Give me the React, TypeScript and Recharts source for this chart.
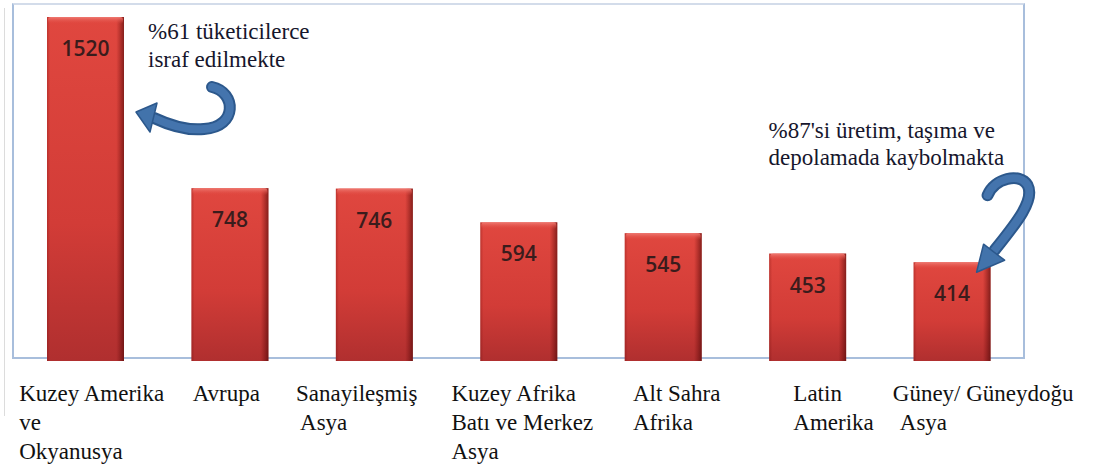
import React from "react";
import { BarChart, Bar, XAxis, YAxis, LabelList } from "recharts";

const regionLines: string[][] = [
  ["Kuzey Amerika", "ve", "Okyanusya"],
  ["Avrupa"],
  ["Sanayileşmiş", "Asya"],
  ["Kuzey Afrika", "Batı ve Merkez", "Asya"],
  ["Alt Sahra", "Afrika"],
  ["Latin", "Amerika"],
  ["Güney/ Güneydoğu", "Asya"],
];
const foodLoss = [1520, 748, 746, 594, 545, 453, 414];

const consumerNote = ["%61 tüketicilerce", "israf edilmekte"];
const productionNote = ["%87'si üretim, taşıma ve", "depolamada kaybolmakta"];

// label placement relative to category centre (left aligned text)
const labelShift: number[][] = [
  [-66, -66, -66],
  [-37],
  [-78, -74],
  [-67, -67, -67],
  [-30, -30],
  [-14, -14],
  [-59, -52],
];

const rows = regionLines.map((lines, i) => ({ region: lines.join(" "), value: foodLoss[i], idx: i }));

const serifFont = { fontFamily: "Liberation Serif, Times New Roman, serif" };
const noteColor = "#16162c";

const Arrow = ({ d, head }: { d: string; head: string }) => (
  <g>
    <path d={d} fill="none" stroke="#2c588c" strokeWidth={12} strokeLinecap="round" />
    <path d={d} fill="none" stroke="#4474ad" strokeWidth={8} strokeLinecap="round" />
    <polygon points={head} fill="#4273ab" stroke="#2c588c" strokeWidth={1.5} strokeLinejoin="round" />
  </g>
);

const pts = (list: number[][]) => list.map((p) => p.join(",")).join(" ");

const BarShape = (props: any) => {
  const { x, y, width, height, index } = props;
  const rx = x + width;
  const h = height + 7;
  return (
    <g>
      <rect x={x} y={y} width={width} height={h} fill="url(#barBody)" />
      <rect x={x} y={y} width={width} height={h} fill="url(#barSide)" />
      <rect x={x + 1} y={y} width={width - 2} height={7} rx={3} fill="url(#barTop)" />
      {index === 0 && (
        <g>
          {consumerNote.map((t, i) => (
            <text key={t} x={rx + 24} y={y + 22 + i * 28} style={serifFont} fontSize={23} fill={noteColor}>
              {t}
            </text>
          ))}
          <Arrow
            d={`M ${rx + 88} ${y + 70} C ${rx + 112} ${y + 75} ${rx + 114} ${y + 110} ${rx + 80} ${y + 112} C ${rx + 62} ${y + 114} ${rx + 45} ${y + 108} ${rx + 30} ${y + 101}`}
            head={pts([
              [rx + 12, y + 95],
              [rx + 33, y + 86],
              [rx + 26, y + 115],
            ])}
          />
        </g>
      )}
      {index === 6 && (
        <g>
          {productionNote.map((t, i) => (
            <text key={t} x={rx - 222} y={y - 124 + i * 27} style={serifFont} fontSize={23} fill={noteColor}>
              {t}
            </text>
          ))}
          <Arrow
            d={`M ${rx - 3} ${y - 67} C ${rx + 4} ${y - 84} ${rx + 29} ${y - 90} ${rx + 37} ${y - 77} C ${rx + 45} ${y - 62} ${rx + 24} ${y - 37} ${rx + 4} ${y - 12}`}
            head={pts([
              [rx - 14, y + 10],
              [rx - 7, y - 18],
              [rx + 14, y - 2],
            ])}
          />
        </g>
      )}
    </g>
  );
};

const RegionTick = (props: any) => {
  const { x, y, payload } = props;
  const i = payload.index;
  const lines = regionLines[i] || [];
  return (
    <g>
      {lines.map((line, j) => (
        <text key={j} x={x + labelShift[i][j]} y={y + 47 + j * 29} style={serifFont} fontSize={23} fill="#111">
          {line}
        </text>
      ))}
    </g>
  );
};

const ValueLabel = (props: any) => {
  const { x, y, width, value } = props;
  return (
    <text
      x={x + width / 2}
      y={y + 31}
      textAnchor="middle"
      dominantBaseline="central"
      style={{ fontFamily: "Open Sans, sans-serif" }}
      fontSize={21}
      fontWeight={600}
      fill="#3a1c1c"
    >
      {value}
    </text>
  );
};

export default function App() {
  return (
    <div style={{ position: "absolute", left: 0, top: 0, width: 1098, height: 468, background: "#fff" }}>
      <div style={{ position: "absolute", left: 4, top: 8, width: 1, height: 408, background: "#dcdcdc" }} />
      <div
        style={{
          position: "absolute",
          left: 12,
          top: 3,
          width: 1009,
          height: 352,
          border: "2px solid #a8bedc",
          borderTopColor: "#d3dcea",
        }}
      />
      <div style={{ position: "absolute", left: 0, top: 0 }}>
        <BarChart width={1098} height={468} data={rows} margin={{ top: 17, right: 74, bottom: 0, left: 13 }} barSize={77}>
          <defs>
            <linearGradient id="barBody" x1="0" x2="0" y1="0" y2="1">
              <stop offset="0%" stopColor="#e0473f" />
              <stop offset="60%" stopColor="#d23c37" />
              <stop offset="100%" stopColor="#b02f2f" />
            </linearGradient>
            <linearGradient id="barSide" x1="0" x2="1" y1="0" y2="0">
              <stop offset="0%" stopColor="#5a0000" stopOpacity={0.25} />
              <stop offset="4%" stopColor="#5a0000" stopOpacity={0} />
              <stop offset="90%" stopColor="#5a0000" stopOpacity={0} />
              <stop offset="100%" stopColor="#3a0000" stopOpacity={0.55} />
            </linearGradient>
            <linearGradient id="barTop" x1="0" x2="0" y1="0" y2="1">
              <stop offset="0%" stopColor="#ef7a72" />
              <stop offset="100%" stopColor="#e0473f" stopOpacity={0} />
            </linearGradient>
          </defs>
          <XAxis
            dataKey="region"
            axisLine={false}
            tickLine={false}
            tickSize={0}
            tickMargin={0}
            height={114}
            interval={0}
            tick={<RegionTick />}
          />
          <YAxis hide domain={[0, 1520]} />
          <Bar dataKey="value" shape={<BarShape />} isAnimationActive={false}>
            <LabelList dataKey="value" content={<ValueLabel />} />
          </Bar>
        </BarChart>
      </div>
    </div>
  );
}
